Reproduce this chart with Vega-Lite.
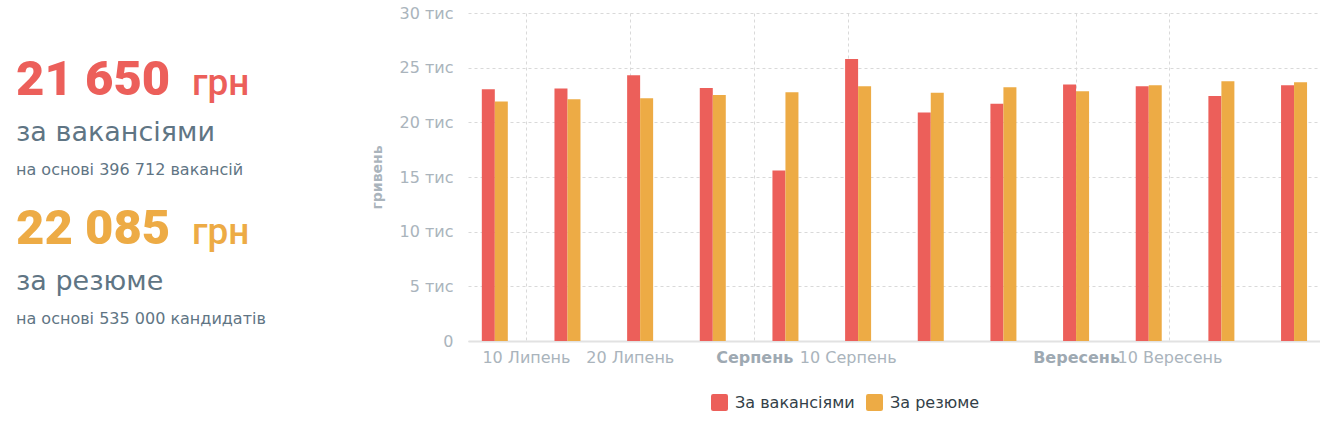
{
  "$schema": "https://vega.github.io/schema/vega-lite/v6.json",
  "background": "white",
  "padding": {"left": 16, "top": 5, "right": 0, "bottom": 0},
  "datasets": {
    "summary": [
      {"series": "За вакансіями", "block": 1, "amount": "21 650", "unit": "грн", "label": "за вакансіями", "basis": "на основі 396 712 вакансій"},
      {"series": "За резюме", "block": 2, "amount": "22 085", "unit": "грн", "label": "за резюме", "basis": "на основі 535 000 кандидатів"}
    ],
    "weekly": [
      {"week": "2025-07-07", "series": "За вакансіями", "salary": 23030},
      {"week": "2025-07-07", "series": "За резюме", "salary": 21900},
      {"week": "2025-07-14", "series": "За вакансіями", "salary": 23100},
      {"week": "2025-07-14", "series": "За резюме", "salary": 22100},
      {"week": "2025-07-21", "series": "За вакансіями", "salary": 24300},
      {"week": "2025-07-21", "series": "За резюме", "salary": 22200},
      {"week": "2025-07-28", "series": "За вакансіями", "salary": 23150},
      {"week": "2025-07-28", "series": "За резюме", "salary": 22500},
      {"week": "2025-08-04", "series": "За вакансіями", "salary": 15600},
      {"week": "2025-08-04", "series": "За резюме", "salary": 22750},
      {"week": "2025-08-11", "series": "За вакансіями", "salary": 25800},
      {"week": "2025-08-11", "series": "За резюме", "salary": 23300},
      {"week": "2025-08-18", "series": "За вакансіями", "salary": 20900},
      {"week": "2025-08-18", "series": "За резюме", "salary": 22700},
      {"week": "2025-08-25", "series": "За вакансіями", "salary": 21700},
      {"week": "2025-08-25", "series": "За резюме", "salary": 23200},
      {"week": "2025-09-01", "series": "За вакансіями", "salary": 23450},
      {"week": "2025-09-01", "series": "За резюме", "salary": 22850},
      {"week": "2025-09-08", "series": "За вакансіями", "salary": 23300},
      {"week": "2025-09-08", "series": "За резюме", "salary": 23400},
      {"week": "2025-09-15", "series": "За вакансіями", "salary": 22400},
      {"week": "2025-09-15", "series": "За резюме", "salary": 23760},
      {"week": "2025-09-22", "series": "За вакансіями", "salary": 23400},
      {"week": "2025-09-22", "series": "За резюме", "salary": 23670}
    ]
  },
  "spacing": 0,
  "hconcat": [
    {
      "width": 354,
      "height": 328,
      "data": {"name": "summary"},
      "encoding": {
        "x": {"datum": 0, "type": "quantitative", "scale": {"domain": [0, 1]}, "axis": null},
        "y": {"field": "block", "type": "ordinal", "scale": {"type": "point", "padding": 0.6, "align": 0.458}, "axis": null},
        "color": {
          "field": "series",
          "type": "nominal",
          "scale": {"domain": ["За вакансіями", "За резюме"], "range": ["#EC5F5A", "#EDAB45"]},
          "legend": null
        }
      },
      "layer": [
        {
          "mark": {"type": "text", "align": "left", "baseline": "alphabetic", "font": "Roboto", "fontSize": 49, "fontWeight": 900},
          "encoding": {"text": {"field": "amount"}}
        },
        {
          "mark": {"type": "text", "align": "left", "baseline": "alphabetic", "font": "Roboto", "fontSize": 37, "fontWeight": 500, "dx": 176},
          "encoding": {"text": {"field": "unit"}}
        },
        {
          "mark": {"type": "text", "align": "left", "baseline": "alphabetic", "font": "DejaVu Sans", "fontSize": 27, "dy": 46},
          "encoding": {"text": {"field": "label"}, "color": {"value": "#5f7584"}}
        },
        {
          "mark": {"type": "text", "align": "left", "baseline": "alphabetic", "font": "DejaVu Sans", "fontSize": 16, "dy": 80},
          "encoding": {"text": {"field": "basis"}, "color": {"value": "#5f7584"}}
        }
      ]
    },
    {
      "width": 852,
      "height": 328,
      "data": {"name": "weekly"},
      "encoding": {
        "x": {
          "field": "week",
          "type": "temporal",
          "title": null,
          "scale": {
            "type": "utc",
            "nice": false,
            "padding": 0,
            "domain": [
              {"year": 2025, "month": 7, "date": 4, "hours": 10, "utc": true},
              {"year": 2025, "month": 9, "date": 24, "hours": 12, "utc": true}
            ]
          },
          "axis": {
            "values": [
              {"year": 2025, "month": 7, "date": 10, "utc": true},
              {"year": 2025, "month": 7, "date": 20, "utc": true},
              {"year": 2025, "month": 8, "date": 1, "utc": true},
              {"year": 2025, "month": 8, "date": 10, "utc": true},
              {"year": 2025, "month": 9, "date": 1, "utc": true},
              {"year": 2025, "month": 9, "date": 10, "utc": true}
            ],
            "labelExpr": "(utcdate(datum.value) == 1 ? '' : utcdate(datum.value) + ' ') + ['Січень','Лютий','Березень','Квітень','Травень','Червень','Липень','Серпень','Вересень','Жовтень','Листопад','Грудень'][utcmonth(datum.value)]",
            "labelFontWeight": {"condition": {"test": "utcdate(datum.value) == 1", "value": "bold"}, "value": "normal"},
            "labelColor": {"condition": {"test": "utcdate(datum.value) == 1", "value": "#9ea9b2"}, "value": "#aab4bc"},
            "labelFont": "DejaVu Sans",
            "labelFontSize": 16,
            "labelOverlap": false,
            "labelFlush": false,
            "labelPadding": 8,
            "ticks": false,
            "domainColor": "#e2e2e2",
            "domainWidth": 2,
            "gridColor": "#d9d9d9",
            "gridDash": [3, 3]
          }
        },
        "y": {
          "field": "salary",
          "type": "quantitative",
          "title": "гривень",
          "scale": {"domain": [0, 30000], "nice": false},
          "axis": {
            "values": [0, 5000, 10000, 15000, 20000, 25000, 30000],
            "labelExpr": "datum.value == 0 ? '0' : (datum.value / 1000) + ' тис'",
            "labelFont": "DejaVu Sans",
            "labelFontSize": 16,
            "labelColor": "#aab4bc",
            "labelPadding": 15,
            "ticks": false,
            "domain": false,
            "gridColor": "#d9d9d9",
            "gridDash": [3, 3],
            "titleFont": "DejaVu Sans",
            "titleFontSize": 14,
            "titleFontWeight": "bold",
            "titleColor": "#aab4bc",
            "titlePadding": 15
          }
        },
        "color": {
          "field": "series",
          "type": "nominal",
          "scale": {"domain": ["За вакансіями", "За резюме"], "range": ["#EC5F5A", "#EDAB45"]},
          "legend": {
            "orient": "none",
            "legendX": 243,
            "legendY": 381,
            "direction": "horizontal",
            "title": null,
            "symbolType": "M -0.75 -1 L 0.75 -1 Q 1 -1 1 -0.75 L 1 0.75 Q 1 1 0.75 1 L -0.75 1 Q -1 1 -1 0.75 L -1 -0.75 Q -1 -1 -0.75 -1 Z",
            "symbolSize": 289,
            "symbolStrokeWidth": 0,
            "symbolOpacity": 1,
            "labelFont": "DejaVu Sans",
            "labelFontSize": 16,
            "labelColor": "#333f48",
            "labelOffset": 7,
            "columnPadding": 11
          }
        }
      },
      "layer": [
        {
          "transform": [{"filter": "datum.series == 'За вакансіями'"}],
          "mark": {"type": "bar", "width": 13, "xOffset": -6.5}
        },
        {
          "transform": [{"filter": "datum.series == 'За резюме'"}],
          "mark": {"type": "bar", "width": 13, "xOffset": 6.5}
        }
      ]
    }
  ],
  "resolve": {"scale": {"color": "independent"}, "legend": {"color": "independent"}},
  "config": {
    "view": {"stroke": null}
  }
}
